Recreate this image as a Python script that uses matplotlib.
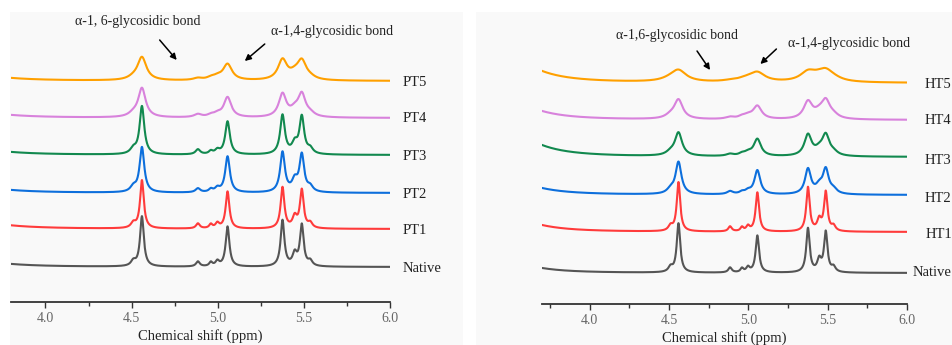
import numpy as np
import matplotlib
matplotlib.use('Agg')
import matplotlib.pyplot as plt
from matplotlib.patches import Rectangle
from matplotlib.transforms import blended_transform_factory
from matplotlib.ticker import MultipleLocator

plt.rcParams['font.family'] = ['Liberation Serif', 'DejaVu Serif']

# 1H NMR peaks (ppm, half width at half height)
peak_ppm = [4.510, 4.560, 4.885, 4.960, 4.998, 5.057, 5.376, 5.447, 5.488, 5.537]
peak_hwhm = [0.016, 0.013, 0.013, 0.011, 0.013, 0.013, 0.013, 0.015, 0.013, 0.015]

# left panel: pullulanase treated
pt_names = ['Native', 'PT1', 'PT2', 'PT3', 'PT4', 'PT5']
pt_amps = [
    [5, 50, 5, 4, 5, 40, 46, 12, 41, 5],
    [5, 48, 5, 4, 5, 37, 41, 11, 38, 5],
    [5, 45, 4, 3, 4, 36, 40, 11, 37, 5],
    [5, 48, 5, 3, 4, 33, 39, 10, 37, 5],
    [3, 29, 3, 2, 3, 20, 23, 6, 22, 3],
    [2, 23, 2, 2, 3, 16, 20, 5, 18, 2],
]
pt_broaden = [1.0, 1.0, 1.25, 1.25, 2.0, 2.4]
pt_base = [10, 12, 10, 10, 10, 10]

# right panel: heat treated
ht_names = ['Native', 'HT1', 'HT2', 'HT3', 'HT4', 'HT5']
ht_amps = [
    [5, 49, 5, 4, 5, 37, 44, 12, 40, 5],
    [5, 49, 5, 4, 5, 39, 44, 11, 39, 5],
    [4, 32, 3, 2, 3, 24, 25, 7, 24, 4],
    [3, 23, 2, 2, 3, 17, 21, 5, 20, 3],
    [3, 19, 2, 2, 3, 13, 17, 5, 17, 3],
    [2, 11, 1, 1, 2, 9, 9, 3, 9, 2],
]
ht_broaden = [1.0, 1.0, 1.7, 2.1, 2.5, 4.5]
ht_base = [10, 14, 14, 24, 18, 24]

colors = ['#555555', '#ff3b3b', '#0d6fdc', '#12894f', '#d882dc', '#ffa000']


def spectrum(x, amps, wf, broad):
    y = np.zeros_like(x)
    for c, w, a in zip(peak_ppm, peak_hwhm, amps):
        y += a / (1 + ((x - c) / (w * wf)) ** 2)
    y += broad / (1 + ((x - 3.5) / 0.2) ** 2)
    return y


W, H = 952, 345
fig = plt.figure(figsize=(W / 100, H / 100), dpi=100)
fig.patches.append(Rectangle((10 / W, 0), 453 / W, 333 / H, transform=fig.transFigure,
                             facecolor='#f9f9f9', edgecolor='none', zorder=-10))
fig.patches.append(Rectangle((476 / W, 0), 476 / W, 333 / H, transform=fig.transFigure,
                             facecolor='#f9f9f9', edgecolor='none', zorder=-10))

panels = [
    dict(rect=[11 / W, 43 / H, 379 / W, 290 / H], xmin=3.8, names=pt_names, amps=pt_amps,
         wf=pt_broaden, base=pt_base, offsets=[35, 73, 109, 147, 184, 221],
         label_x=[1.032] * 6, label_y=[33, 72, 107, 145, 183, 220],
         notes=[('α-1, 6-glycosidic bond', (4.535, 281), (4.663, 262), (4.762, 242)),
                ('α-1,4-glycosidic bond', (5.666, 271), (5.273, 258), (5.157, 241))]),
    dict(rect=[542 / W, 41 / H, 365 / W, 290 / H], xmin=3.7, names=ht_names, amps=ht_amps,
         wf=ht_broaden, base=ht_base, offsets=[31, 72, 109, 147, 184, 221],
         label_x=[1.015, 1.050, 1.047, 1.047, 1.047, 1.047], label_y=[32, 69, 105, 143, 184, 220],
         notes=[('α-1,6-glycosidic bond', (4.551, 268), (4.677, 253), (4.759, 234)),
                ('α-1,4-glycosidic bond', (5.636, 260), (5.177, 255), (5.076, 240))]),
]

for p in panels:
    ax = fig.add_axes(p['rect'])
    ax.set_facecolor('none')
    x = np.linspace(p['xmin'], 6.0, 3000)
    for i in range(6):
        y = spectrum(x, p['amps'][i], p['wf'][i], p['base'][i])
        ax.plot(x, y + p['offsets'][i], color=colors[i], lw=1.5)
    ax.set_xlim(p['xmin'], 6.0)
    ax.set_ylim(0, 290)

    tr = blended_transform_factory(ax.transAxes, ax.transData)
    for name, lx, ly in zip(p['names'], p['label_x'], p['label_y']):
        ax.text(lx, ly, name, transform=tr, fontsize=10.5, va='center', ha='left',
                color='#222222', clip_on=False)

    for txt, tpos, tail, head in p['notes']:
        ax.text(tpos[0], tpos[1], txt, fontsize=10, ha='center', va='center', color='#222222')
        ax.annotate('', xy=head, xytext=tail,
                    arrowprops=dict(arrowstyle='-|>', color='black', lw=1.1,
                                    mutation_scale=9, shrinkA=0, shrinkB=0))

    for s in ['left', 'right', 'top']:
        ax.spines[s].set_visible(False)
    ax.spines['bottom'].set_color('#333333')
    ax.spines['bottom'].set_linewidth(1.3)
    ax.set_yticks([])
    ax.xaxis.set_minor_locator(MultipleLocator(0.25))
    ax.set_xticks([4.0, 4.5, 5.0, 5.5, 6.0])
    ax.set_xticklabels(['4.0', '4.5', '5.0', '5.5', '6.0'])
    ax.tick_params(axis='x', which='major', length=4, width=1, color='#333333',
                   labelsize=10, labelcolor='#666666', pad=3)
    ax.tick_params(axis='x', which='minor', length=3, width=1, color='#333333')
    ax.set_xlabel('Chemical shift (ppm)', fontsize=10.5, labelpad=3, color='#222222')

fig.savefig('out.png', dpi=100, facecolor='white')
